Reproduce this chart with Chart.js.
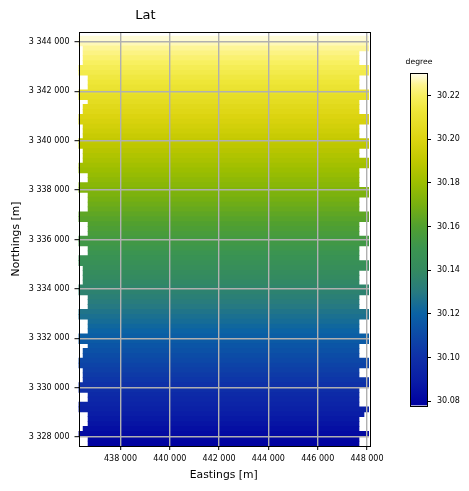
<!DOCTYPE html>
<html>
<head>
<meta charset="utf-8">
<title>Lat</title>
<script src="https://cdn.jsdelivr.net/npm/chart.js@4"></script>
<style>
    html, body { margin: 0; padding: 0; background: #fff; }
    #wrap { position: relative; width: 469px; height: 491px; overflow: hidden; }
    #latChart { position: absolute; left: 0; top: 0; }
    #barChart { position: absolute; left: 390px; top: 50px; }
</style>
</head>
<body>
<div id="wrap">
    <canvas id="latChart" width="469" height="491"></canvas>
    <canvas id="barChart" width="79" height="375"></canvas>
</div>
<script>
// northing of each raster row, top to bottom
const rowNorthing = [
    3344136, 3343938, 3343741, 3343543, 3343346, 3343148, 3342950, 3342753, 3342555, 3342358,
    3342160, 3341962, 3341765, 3341567, 3341370, 3341172, 3340974, 3340777, 3340579, 3340382,
    3340184, 3339986, 3339789, 3339591, 3339394, 3339196, 3338998, 3338801, 3338603, 3338406,
    3338208, 3338010, 3337813, 3337615, 3337418, 3337220, 3337022, 3336825, 3336627, 3336430,
    3336232, 3336034, 3335837, 3335639, 3335442, 3335244, 3335046, 3334849, 3334651, 3334454,
    3334256, 3334058, 3333861, 3333663, 3333466, 3333268, 3333070, 3332873, 3332675, 3332478,
    3332280, 3332082, 3331885, 3331687, 3331490, 3331292, 3331094, 3330897, 3330699, 3330502,
    3330304, 3330106, 3329909, 3329711, 3329514, 3329316, 3329118, 3328921, 3328723, 3328526,
    3328328, 3328130, 3327933, 3327735
];
// latitude read for each row
const rowLat = [
    30.2290, 30.2272, 30.2254, 30.2236, 30.2218, 30.2200, 30.2181, 30.2163, 30.2145, 30.2127,
    30.2109, 30.2091, 30.2073, 30.2055, 30.2037, 30.2019, 30.2000, 30.1982, 30.1964, 30.1946,
    30.1928, 30.1910, 30.1892, 30.1874, 30.1856, 30.1838, 30.1819, 30.1801, 30.1783, 30.1765,
    30.1747, 30.1729, 30.1711, 30.1693, 30.1675, 30.1657, 30.1638, 30.1620, 30.1602, 30.1584,
    30.1566, 30.1548, 30.1530, 30.1512, 30.1494, 30.1476, 30.1457, 30.1439, 30.1421, 30.1403,
    30.1385, 30.1367, 30.1349, 30.1331, 30.1313, 30.1295, 30.1276, 30.1258, 30.1240, 30.1222,
    30.1204, 30.1186, 30.1168, 30.1150, 30.1132, 30.1114, 30.1095, 30.1077, 30.1059, 30.1041,
    30.1023, 30.1005, 30.0987, 30.0969, 30.0951, 30.0933, 30.0914, 30.0896, 30.0878, 30.0860,
    30.0842, 30.0824, 30.0806, 30.0790
];
// where the valid cells of a row begin and end
const westEdges = [436296, 436482, 436684];
const eastEdges = [448081, 447878, 447676];
const rowWestEdge = [
    0, 0, 1, 1, 1, 1, 0, 0, 2, 2, 2, 0, 0, 2, 1, 1, 0, 0, 1, 1, 1,
    0, 0, 1, 1, 1, 0, 0, 2, 2, 0, 0, 2, 2, 2, 2, 0, 0, 2, 2, 2, 0,
    0, 2, 2, 0, 0, 1, 1, 1, 1, 0, 0, 2, 2, 2, 0, 0, 2, 2, 2, 0, 0,
    2, 1, 1, 0, 0, 1, 1, 1, 0, 0, 2, 2, 0, 0, 2, 2, 2, 1, 0, 2, 2
];
const rowEastEdge = [
    0, 0, 0, 2, 2, 2, 0, 0, 2, 2, 2, 0, 0, 2, 2, 2, 0, 0, 2, 2, 2,
    0, 0, 2, 2, 0, 0, 2, 2, 2, 2, 0, 0, 2, 2, 2, 0, 0, 2, 2, 2, 0,
    0, 2, 2, 2, 0, 0, 2, 2, 2, 0, 0, 2, 2, 2, 0, 0, 2, 2, 2, 0, 0,
    2, 2, 2, 0, 0, 2, 2, 0, 0, 2, 2, 2, 2, 0, 1, 2, 2, 2, 0, 2, 2
];

const eastingTicks = [438000, 440000, 442000, 444000, 446000, 448000];
const northingTicks = [3328000, 3330000, 3332000, 3334000, 3336000, 3338000, 3340000, 3342000, 3344000];
const latTicks = [30.08, 30.10, 30.12, 30.14, 30.16, 30.18, 30.20, 30.22];

const latMin = 30.078;
const latMax = 30.2304;
const rampValues = [30.078, 30.09, 30.10, 30.12, 30.13, 30.14, 30.15, 30.16, 30.17, 30.18, 30.19, 30.20, 30.213, 30.22, 30.225, 30.2304];
const rampColors = ['#0000a0', '#0a1ea6', '#0f30a8', '#0a62a5', '#277a80', '#348a60', '#3b9550', '#50a030',
    '#78b010', '#9cbe00', '#c0c800', '#dcd410', '#eee638', '#f8f060', '#fdf490', '#fffdf0'];

function hexToRgb(hex) {
    return [1, 3, 5].map(i => parseInt(hex.slice(i, i + 2), 16));
}

function colorFor(v) {
    let i = 0;
    while (i < rampValues.length - 2 && v > rampValues[i + 1]) i++;
    const t = Math.min(1, Math.max(0, (v - rampValues[i]) / (rampValues[i + 1] - rampValues[i])));
    const a = hexToRgb(rampColors[i]);
    const b = hexToRgb(rampColors[i + 1]);
    return 'rgb(' + a.map((c, k) => Math.round(c + (b[k] - c) * t)).join(',') + ')';
}

function spaced(v) {
    return String(v).replace(/\B(?=(\d{3})+$)/g, ' ');
}

const fontName = '"DejaVu Sans"';
const tickFont = { family: fontName, size: 8 };

// box round the plot area, and a caption placed by hand
const framePlugin = {
    id: 'frame',
    afterDraw(chart, args, opts) {
        const a = chart.chartArea;
        const c = chart.ctx;
        c.save();
        c.strokeStyle = '#000';
        c.lineWidth = 1;
        c.strokeRect(Math.round(a.left) + 0.5, Math.round(a.top) + 0.5, Math.round(a.width), Math.round(a.height));
        c.fillStyle = '#000';
        c.font = opts.size + 'px ' + fontName;
        c.textAlign = 'center';
        c.textBaseline = 'middle';
        c.fillText(opts.text, opts.x, opts.y);
        c.restore();
    }
};

new Chart(document.getElementById('latChart'), {
    type: 'bar',
    plugins: [framePlugin],
    data: {
        datasets: [{
            data: rowNorthing.map((n, i) => ({ x: [westEdges[rowWestEdge[i]], eastEdges[rowEastEdge[i]]], y: n })),
            backgroundColor: rowLat.map(colorFor),
            borderWidth: 0,
            barThickness: 5
        }]
    },
    options: {
        indexAxis: 'y',
        responsive: false,
        animation: false,
        layout: { padding: { top: 32, right: 100, bottom: 0, left: 0 } },
        plugins: {
            legend: { display: false },
            tooltip: { enabled: false },
            frame: { text: 'Lat', size: 13, x: 145.5, y: 15.5 }
        },
        scales: {
            x: {
                type: 'linear',
                min: 436296,
                max: 448081,
                offset: false,
                afterBuildTicks: s => { s.ticks = eastingTicks.map(value => ({ value })); },
                afterFit: s => { s.height = 45; },
                grid: { color: '#b0b0b0', lineWidth: 1.4, z: 1, offset: false, tickColor: '#000', tickWidth: 1, tickLength: 4 },
                border: { display: false },
                ticks: { font: tickFont, color: '#000', maxRotation: 0, autoSkip: false, padding: 4, callback: v => spaced(v) },
                title: { display: true, text: 'Eastings [m]', color: '#000', font: { family: fontName, size: 10.8 }, padding: { top: 4, bottom: 9 } }
            },
            y: {
                type: 'linear',
                min: 3327636,
                max: 3344405,
                offset: false,
                afterBuildTicks: s => { s.ticks = northingTicks.map(value => ({ value })); },
                afterFit: s => { s.width = 78.5; },
                grid: { color: '#b0b0b0', lineWidth: 1.4, z: 1, offset: false, tickColor: '#000', tickWidth: 1, tickLength: 4 },
                border: { display: false },
                ticks: { font: tickFont, color: '#000', autoSkip: false, padding: 5, callback: v => spaced(v) },
                title: { display: true, text: 'Northings [m]', color: '#000', font: { family: fontName, size: 10.8 }, padding: { top: 10, bottom: 0 } }
            }
        }
    }
});

new Chart(document.getElementById('barChart'), {
    type: 'bar',
    plugins: [framePlugin],
    data: {
        labels: ['degree'],
        datasets: [{
            data: [[latMin, latMax]],
            backgroundColor(ctx) {
                const chart = ctx.chart;
                if (!chart.chartArea) return null;
                const y = chart.scales.y;
                const g = chart.ctx.createLinearGradient(0, y.getPixelForValue(latMin), 0, y.getPixelForValue(latMax));
                rampValues.forEach((v, i) => g.addColorStop((v - latMin) / (latMax - latMin), rampColors[i]));
                return g;
            },
            borderWidth: 0,
            barPercentage: 1,
            categoryPercentage: 1
        }]
    },
    options: {
        responsive: false,
        animation: false,
        layout: { padding: { top: 23, right: 0, bottom: 19.5, left: 20 } },
        plugins: {
            legend: { display: false },
            tooltip: { enabled: false },
            frame: { text: 'degree', size: 7.7, x: 29, y: 12.5 }
        },
        scales: {
            x: { display: false },
            y: {
                position: 'right',
                min: latMin,
                max: latMax,
                afterBuildTicks: s => { s.ticks = latTicks.map(value => ({ value })); },
                afterFit: s => { s.width = 42; },
                grid: { display: true, drawOnChartArea: false, color: '#000', tickLength: 4 },
                border: { display: false },
                ticks: { font: tickFont, color: '#000', autoSkip: false, padding: 6, callback: v => v.toFixed(2) }
            }
        }
    }
});
</script>
</body>
</html>
